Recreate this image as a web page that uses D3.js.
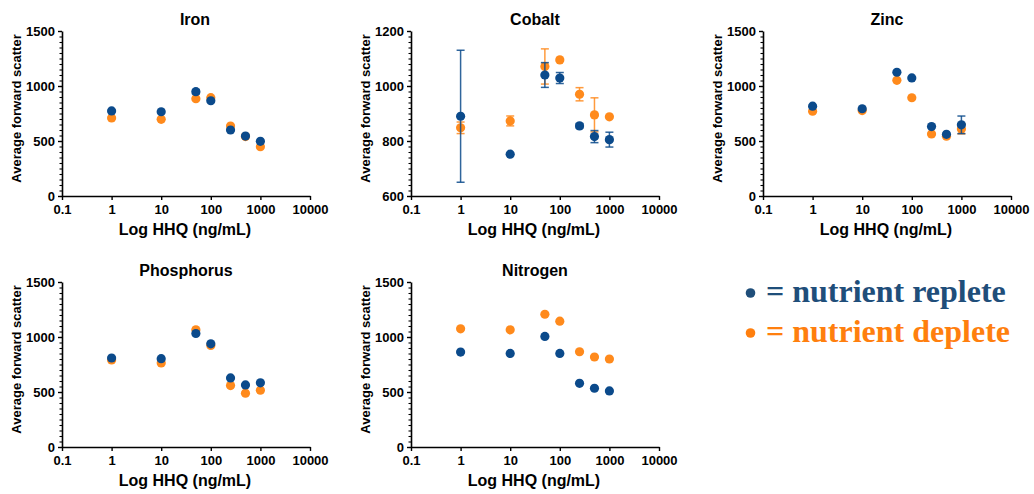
<!DOCTYPE html>
<html>
<head>
<meta charset="utf-8">
<script src="https://cdn.jsdelivr.net/npm/d3@7"></script>
<style>
  body { margin: 0; background: #fff; }
  text { font-family: "Liberation Sans", Arial, sans-serif; font-weight: bold; fill: #000; }
  .legend text { font-family: "Liberation Serif", "Times New Roman", serif; }
</style>
</head>
<body>
<div id="chart"></div>
<script>
// HHQ doses (ng/mL)
var doses = [1, 10, 50, 100, 250, 500, 1000];
var xTicks = [0.1, 1, 10, 100, 1000, 10000];

// Average forward scatter, per nutrient
var ironReplete = [773, 766, 948, 866, 600, 545, 497];
var ironDeplete = [709, 697, 885, 894, 636, 540, 448];
var ironRepleteErr = [0, 0, 20, 0, 0, 0, 0];
var ironDepleteErr = [0, 0, 0, 0, 0, 0, 0];

var cobaltReplete = [890, 752, 1040, 1029, 855, 816, 805];
var cobaltDeplete = [848, 873, 1071, 1095, 970, 895, 888];
var cobaltRepleteErr = [240, 0, 45, 20, 8, 22, 27];
var cobaltDepleteErr = [21, 18, 64, 0, 24, 62, 0];

var zincReplete = [817, 793, 1125, 1073, 631, 561, 647];
var zincDeplete = [771, 777, 1052, 893, 564, 543, 610];
var zincRepleteErr = [0, 0, 0, 0, 0, 0, 80];
var zincDepleteErr = [0, 0, 0, 0, 0, 0, 45];

var phosReplete = [809, 803, 1032, 938, 628, 564, 583];
var phosDeplete = [791, 764, 1065, 923, 558, 489, 516];

var nitroReplete = [863, 851, 1005, 851, 579, 534, 510];
var nitroDeplete = [1074, 1065, 1207, 1144, 866, 818, 800];

var noErr = [0, 0, 0, 0, 0, 0, 0];

var blue = "#0b4a8b";
var orange = "#ff8a1c";

var panels = [
  { title: "Iron", rep: ironReplete, dep: ironDeplete, repErr: ironRepleteErr, depErr: ironDepleteErr,
    yDomain: [0, 1500], yStep: 500, left: 62, top: 31, titleShift: 9 },
  { title: "Cobalt", rep: cobaltReplete, dep: cobaltDeplete, repErr: cobaltRepleteErr, depErr: cobaltDepleteErr,
    yDomain: [600, 1200], yStep: 200, left: 411, top: 31, titleShift: 0 },
  { title: "Zinc", rep: zincReplete, dep: zincDeplete, repErr: zincRepleteErr, depErr: zincDepleteErr,
    yDomain: [0, 1500], yStep: 500, left: 763, top: 31, titleShift: 0 },
  { title: "Phosphorus", rep: phosReplete, dep: phosDeplete, repErr: noErr, depErr: noErr,
    yDomain: [0, 1500], yStep: 500, left: 62, top: 282, titleShift: 0 },
  { title: "Nitrogen", rep: nitroReplete, dep: nitroDeplete, repErr: noErr, depErr: noErr,
    yDomain: [0, 1500], yStep: 500, left: 411, top: 282, titleShift: 0 }
];

var width = 1034;
var height = 494;
var plotW = 248;
var plotH = 165;
var dotR = 4.6;

var svg = d3
  .select("#chart")
  .append("svg")
  .attr("width", width)
  .attr("height", height);

panels.forEach(function(p) {
  var g = svg.append("g").attr("transform", "translate(" + p.left + "," + p.top + ")");

  var x = d3.scaleLog().domain([0.1, 10000]).range([0, plotW]);
  var y = d3.scaleLinear().domain(p.yDomain).range([plotH, 0]);

  var major = d3.range(p.yDomain[0], p.yDomain[1] + 1, p.yStep);
  var minor = d3.range(p.yDomain[0], p.yDomain[1] + 1, p.yStep / 10);

  // minor y ticks
  g.append("g")
    .call(d3.axisLeft(y).tickValues(minor).tickSize(2.5).tickSizeOuter(0).tickFormat(""))
    .call(function(a) { a.select(".domain").remove(); })
    .selectAll("line").attr("stroke-width", 1.1);

  var yAx = g.append("g")
    .call(d3.axisLeft(y).tickValues(major).tickSize(4).tickSizeOuter(0).tickPadding(3).tickFormat(d3.format("d")));
  yAx.select(".domain").attr("stroke-width", 1.6);
  yAx.selectAll("line").attr("stroke-width", 1.4);
  yAx.selectAll("text").style("font-size", "13px").attr("dy", "0.36em");

  var xAx = g.append("g")
    .attr("transform", "translate(0," + plotH + ")")
    .call(d3.axisBottom(x).tickValues(xTicks).tickSize(4).tickSizeOuter(0).tickPadding(5)
      .tickFormat(function(d) { return String(d); }));
  xAx.select(".domain").attr("stroke-width", 1.6);
  xAx.selectAll("line").attr("stroke-width", 1.4);
  xAx.selectAll("text").style("font-size", "13px");

  // Titles and labels
  g.append("text")
    .attr("x", plotW / 2 + p.titleShift)
    .attr("y", -6)
    .attr("text-anchor", "middle")
    .style("font-size", "16px")
    .text(p.title);

  g.append("text")
    .attr("x", plotW / 2 - 1)
    .attr("y", plotH + 39)
    .attr("text-anchor", "middle")
    .style("font-size", "16px")
    .text("Log HHQ (ng/mL)");

  g.append("text")
    .attr("transform", "translate(-41," + (plotH / 2 - 5) + ")rotate(-90)")
    .attr("text-anchor", "middle")
    .style("font-size", "13px")
    .text("Average forward scatter");

  var series = [
    { vals: p.dep, err: p.depErr, color: orange },
    { vals: p.rep, err: p.repErr, color: blue }
  ];

  series.forEach(function(s) {
    var pts = doses.map(function(d, i) { return { dose: d, v: s.vals[i], e: s.err[i] }; });
    var withErr = pts.filter(function(d) { return d.e > 0; });

    var eb = g.append("g")
      .attr("stroke", s.color)
      .attr("stroke-width", 1.5)
      .attr("stroke-opacity", 0.85);
    eb.selectAll(".bar").data(withErr).enter().append("line")
      .attr("x1", function(d) { return x(d.dose); })
      .attr("x2", function(d) { return x(d.dose); })
      .attr("y1", function(d) { return y(d.v - d.e); })
      .attr("y2", function(d) { return y(d.v + d.e); });
    [-1, 1].forEach(function(sign) {
      eb.selectAll(".cap" + sign).data(withErr).enter().append("line")
        .attr("x1", function(d) { return x(d.dose) - 4; })
        .attr("x2", function(d) { return x(d.dose) + 4; })
        .attr("y1", function(d) { return y(d.v + sign * d.e); })
        .attr("y2", function(d) { return y(d.v + sign * d.e); });
    });

    g.append("g").selectAll("circle").data(pts).enter().append("circle")
      .attr("cx", function(d) { return x(d.dose); })
      .attr("cy", function(d) { return y(d.v); })
      .attr("r", dotR)
      .attr("fill", s.color);
  });
});

// Legend
var legendItems = [
  { label: "= nutrient replete", color: "#1f4e7a", y: 302 },
  { label: "= nutrient deplete", color: "#ff7f0e", y: 342 }
];
var legend = svg.append("g").attr("class", "legend");
legend.selectAll("circle").data(legendItems).enter().append("circle")
  .attr("cx", 750.5)
  .attr("cy", function(d) { return d.y - 9; })
  .attr("r", 4.8)
  .attr("fill", function(d) { return d.color; });
legend.selectAll("text").data(legendItems).enter().append("text")
  .attr("x", 766)
  .attr("y", function(d) { return d.y; })
  .style("font-size", "32px")
  .style("fill", function(d) { return d.color; })
  .text(function(d) { return d.label; });
</script>
</body>
</html>
